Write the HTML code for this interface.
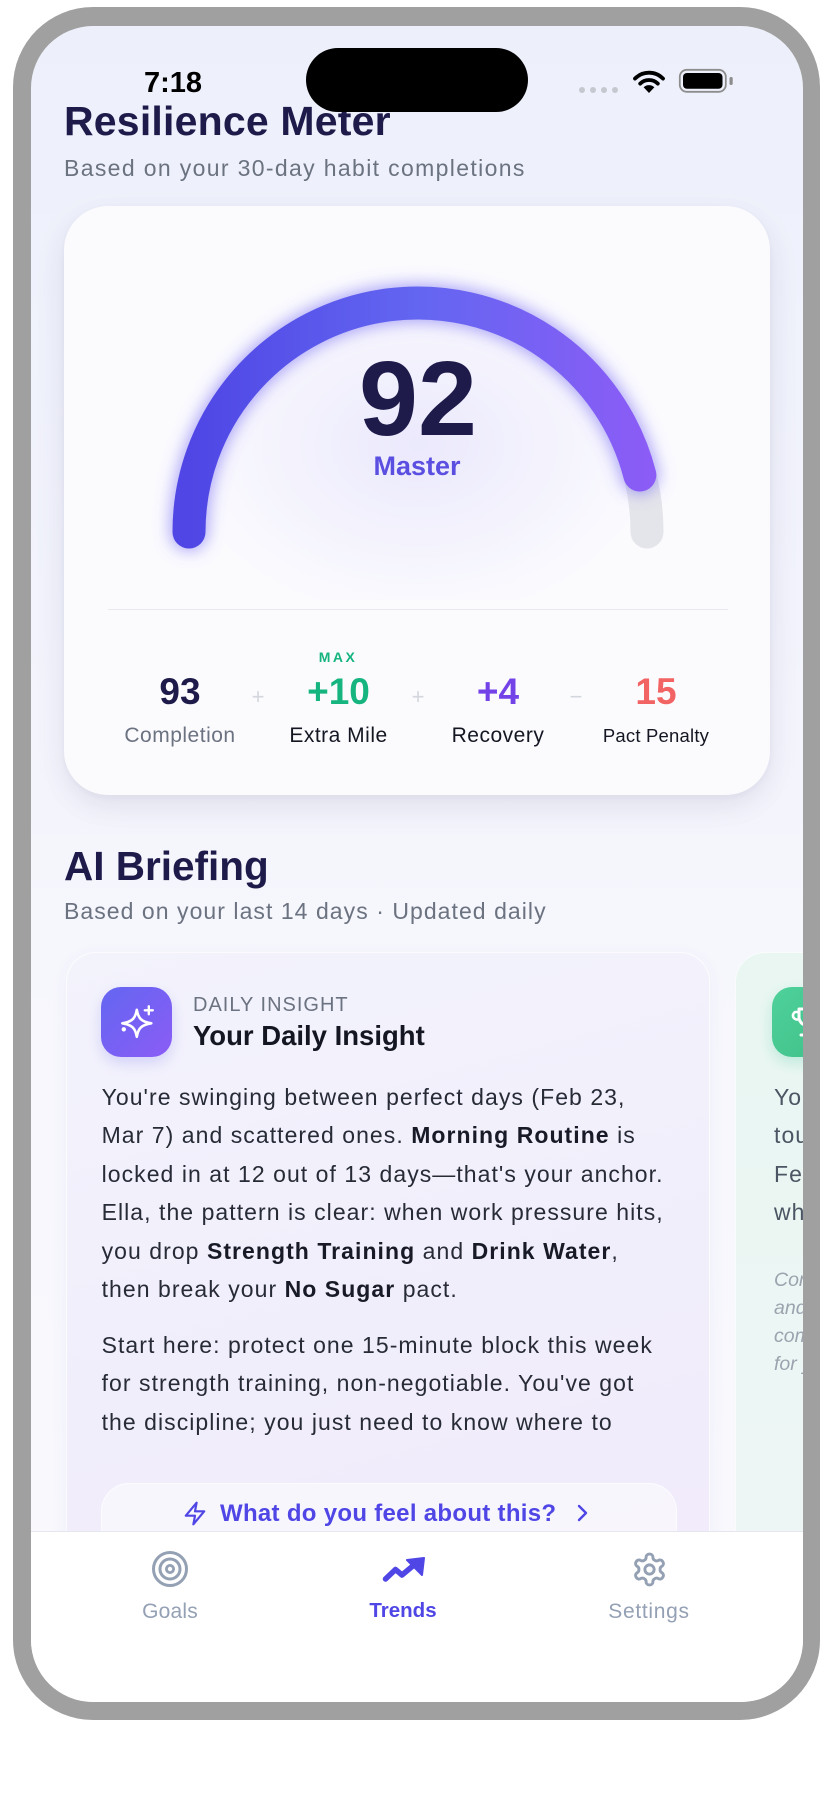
<!DOCTYPE html>
<html><head><meta charset="utf-8"><style>
*{margin:0;padding:0;box-sizing:border-box}
html,body{width:828px;height:1795px;overflow:hidden;background:#fff}
body{font-family:"Liberation Sans",Arial,sans-serif;position:relative}
.a{position:absolute}
.t{position:absolute;white-space:nowrap;line-height:1}
.c{text-align:center}
.b{font-weight:bold}
.body{position:absolute;white-space:nowrap;font-size:23px;line-height:38.5px;letter-spacing:1.05px;color:#272b36}
.body b{color:#181b27}
.lab{font-size:21px;letter-spacing:.5px;color:#141722}
.num{font-size:37px;font-weight:bold}
.sep{font-size:22px;color:#d3d6dd}
</style></head><body>
<div class="a" style="left:13px;top:7px;width:807px;height:1713px;border-radius:80px;background:#a0a0a0"></div>
<div class="a" style="left:31px;top:26px;width:772px;height:1676px;border-radius:62px;overflow:hidden;background:linear-gradient(180deg,#edf0fb 0%,#f2f3fc 35%,#f7f7fd 60%,#f8f8fd 100%)">
<div class="a" style="left:-31px;top:-26px;width:828px;height:1795px">

<!-- status bar -->
<div class="t b" style="left:144px;top:68.5px;font-size:29px;color:#000">7:18</div>
<div class="a" style="left:579px;top:87px;width:6px;height:6px;border-radius:3px;background:#c6c8cf"></div>
<div class="a" style="left:590px;top:87px;width:6px;height:6px;border-radius:3px;background:#c6c8cf"></div>
<div class="a" style="left:601px;top:87px;width:6px;height:6px;border-radius:3px;background:#c6c8cf"></div>
<div class="a" style="left:612px;top:87px;width:6px;height:6px;border-radius:3px;background:#c6c8cf"></div>
<svg class="a" style="left:632px;top:69px" width="34" height="25" viewBox="0 0 34 25">
 <path d="M17 24 L11.6 18.3 A7.8 7.8 0 0 1 22.4 18.3 Z" fill="#000"/>
 <path d="M8.2 14.6 A12.5 12.5 0 0 1 25.8 14.6" stroke="#000" stroke-width="3.8" fill="none" stroke-linecap="round"/>
 <path d="M3 9.6 A19.5 19.5 0 0 1 31 9.6" stroke="#000" stroke-width="3.8" fill="none" stroke-linecap="round"/>
</svg>
<svg class="a" style="left:678px;top:68px" width="58" height="26" viewBox="0 0 58 26">
 <rect x="1.8" y="1.8" width="46" height="22" rx="7" fill="none" stroke="#8d8d8d" stroke-width="1.8"/>
 <rect x="5" y="5" width="39.5" height="15.8" rx="4" fill="#000"/>
 <rect x="51.5" y="9" width="3.2" height="8" rx="1.5" fill="#8d8d8d"/>
</svg>

<!-- heading -->
<div class="t b" style="left:64px;top:101.3px;font-size:41px;letter-spacing:.2px;color:#1e1b4b">Resilience Meter</div>
<div class="t" style="left:64px;top:157px;font-size:23px;letter-spacing:1.35px;color:#6b7280">Based on your 30-day habit completions</div>

<!-- island -->
<div class="a" style="left:306px;top:48px;width:222px;height:64px;border-radius:32px;background:#000"></div>

<!-- resilience card -->
<div class="a" style="left:64px;top:206px;width:706px;height:589px;border-radius:44px;background:#fbfbfe;box-shadow:0 12px 30px rgba(40,40,90,0.10),0 2px 6px rgba(40,40,90,0.04)"></div>
<div class="a" style="left:120px;top:270px;width:600px;height:330px;background:radial-gradient(ellipse 240px 175px at 298px 175px,rgba(125,110,240,0.13),rgba(125,110,240,0) 100%)"></div>

<svg class="a" style="left:0;top:0" width="828" height="800" viewBox="0 0 828 800">
 <defs>
  <linearGradient id="g" gradientUnits="userSpaceOnUse" x1="189" y1="0" x2="647" y2="0">
   <stop offset="0" stop-color="#4f46e5"/>
   <stop offset="0.5" stop-color="#6366f1"/>
   <stop offset="1" stop-color="#8b5cf6"/>
  </linearGradient>
  <filter id="bl" x="-20%" y="-20%" width="140%" height="140%"><feGaussianBlur stdDeviation="8"/></filter>
 </defs>
 <path d="M189 532 A229 229 0 0 1 647 532" stroke="#e4e5ea" stroke-width="33" fill="none" stroke-linecap="round"/>
 <path d="M189 532 A229 229 0 0 1 639.8 475" stroke="#6a5cf2" stroke-opacity="0.55" stroke-width="38" fill="none" stroke-linecap="round" filter="url(#bl)"/>
 <path d="M189 532 A229 229 0 0 1 639.8 475" stroke="url(#g)" stroke-width="33" fill="none" stroke-linecap="round"/>
</svg>

<div class="t b c" style="left:318px;top:346.3px;width:200px;font-size:106px;color:#1e1b4b">92</div>
<div class="t b c" style="left:317px;top:453.1px;width:200px;font-size:27px;color:#5a4fe0">Master</div>

<div class="a" style="left:108px;top:608.5px;width:620px;height:1.5px;background:#e8e9ef"></div>

<div class="t b c" style="left:288px;top:650.1px;width:100px;font-size:14px;letter-spacing:2.5px;color:#16b47e">MAX</div>
<div class="t num c" style="left:130px;top:672.7px;width:100px;color:#1e1b4b">93</div>
<div class="t num c" style="left:288.5px;top:672.7px;width:100px;color:#16b47e">+10</div>
<div class="t num c" style="left:448px;top:672.7px;width:100px;color:#7443e8">+4</div>
<div class="t num c" style="left:606px;top:672.7px;width:100px;color:#f26363">15</div>
<div class="t sep c" style="left:248px;top:686px;width:20px">+</div>
<div class="t sep c" style="left:408px;top:686px;width:20px">+</div>
<div class="t sep c" style="left:566px;top:686px;width:20px">−</div>
<div class="t lab c" style="left:110px;top:725.2px;width:140px;color:#6b7280">Completion</div>
<div class="t lab c" style="left:268.5px;top:725.2px;width:140px">Extra Mile</div>
<div class="t lab c" style="left:428px;top:725.2px;width:140px">Recovery</div>
<div class="t c" style="left:586px;top:727.3px;width:140px;font-size:18.5px;letter-spacing:.2px;color:#141722">Pact Penalty</div>

<!-- AI Briefing -->
<div class="t b" style="left:64px;top:845.7px;font-size:40.5px;color:#1e1b4b">AI Briefing</div>
<div class="t" style="left:64px;top:899.5px;font-size:23px;letter-spacing:1.05px;color:#6b7280">Based on your last 14 days · Updated daily</div>

<!-- insight card -->
<div class="a" style="left:66px;top:952px;width:644px;height:660px;border-radius:30px;background:linear-gradient(165deg,#f3f3fc 0%,#f1effb 45%,#f1eafb 100%);border:1px solid rgba(255,255,255,0.75);box-shadow:0 4px 18px rgba(80,70,180,0.05)"></div>
<div class="a" style="left:100.7px;top:986.7px;width:71px;height:70px;border-radius:20px;background:linear-gradient(135deg,#6366f1,#8b5cf6);box-shadow:0 6px 14px rgba(99,102,241,0.22)"></div>
<svg class="a" style="left:100.7px;top:986.7px" width="71" height="70" viewBox="100.7 986.7 71 70">
 <path d="M136.5 1009.5 C138 1018 141 1021.5 151 1023 C141 1024.5 138 1028 136.5 1036.5 C135 1028 132 1024.5 122 1023 C132 1021.5 135 1018 136.5 1009.5 Z" fill="none" stroke="#fff" stroke-width="2.6" stroke-linejoin="round"/>
 <path d="M148.5 1006 v8 M144.5 1010 h8" stroke="#fff" stroke-width="2.4" stroke-linecap="round"/>
 <circle cx="123.5" cy="1029" r="2.2" fill="#fff"/>
</svg>
<div class="t" style="left:193px;top:995.1px;font-size:20px;letter-spacing:1px;color:#6b7280">DAILY INSIGHT</div>
<div class="t b" style="left:193px;top:1021.7px;font-size:27.5px;color:#141722">Your Daily Insight</div>

<div class="body" style="left:101.6px;top:1077.8px">You're swinging between perfect days (Feb 23,<br>Mar 7) and scattered ones. <b>Morning Routine</b> is<br>locked in at 12 out of 13 days—that's your anchor.<br>Ella, the pattern is clear: when work pressure hits,<br>you drop <b>Strength Training</b> and <b>Drink Water</b>,<br>then break your <b>No Sugar</b> pact.</div>
<div class="body" style="left:101.6px;top:1325.8px">Start here: protect one 15-minute block this week<br>for strength training, non-negotiable. You've got<br>the discipline; you just need to know where to</div>

<div class="a" style="left:101px;top:1483px;width:576px;height:80px;border-radius:28px;background:rgba(255,255,255,0.5);border:1px solid rgba(255,255,255,0.6)"></div>
<svg class="a" style="left:182px;top:1500px" width="26" height="27" viewBox="0 0 24 24">
 <path d="M13.5 2 L3.5 14 H12 L10.5 22 L20.5 10 H12 Z" fill="none" stroke="#4f46e5" stroke-width="2" stroke-linejoin="round"/>
</svg>
<div class="t b" style="left:220px;top:1501.7px;font-size:24px;letter-spacing:.3px;color:#4f46e5">What do you feel about this?</div>
<svg class="a" style="left:575px;top:1503px" width="16" height="20" viewBox="0 0 16 20">
 <path d="M4 3 L11 10 L4 17" fill="none" stroke="#4f46e5" stroke-width="2.4" stroke-linecap="round" stroke-linejoin="round"/>
</svg>

<!-- peek card -->
<div class="a" style="left:735px;top:952px;width:644px;height:660px;border-radius:30px;background:linear-gradient(180deg,#e9f6f2,#eef6f5);border:1px solid rgba(255,255,255,0.7)"></div>
<div class="a" style="left:772px;top:987px;width:71px;height:70px;border-radius:20px;background:linear-gradient(135deg,#4fd19b,#3fbf88);box-shadow:0 6px 14px rgba(16,185,129,0.2)"></div>
<svg class="a" style="left:772px;top:987px" width="71" height="70" viewBox="0 0 71 70">
 <path d="M27 22 h17 v8 a8.5 8.5 0 0 1 -17 0 Z M35.5 38.5 v7 M29 48 h13" fill="none" stroke="#fff" stroke-width="3" stroke-linecap="round" stroke-linejoin="round"/>
 <path d="M27 25 h-4 a4 4 0 0 0 4 7" fill="none" stroke="#fff" stroke-width="2.6" stroke-linecap="round"/>
</svg>
<div class="body" style="left:774px;top:1077.8px;color:#4b5563">Your streak is strong<br>touching new highs<br>February was steady<br>when it counted</div>
<div class="a" style="left:774px;top:1266.4px;white-space:nowrap;font-size:19.5px;line-height:28px;font-style:italic;color:#9ca3af">Consistency builds<br>and keeps<br>compounding<br>for you</div>

<!-- nav -->
<div class="a" style="left:0;top:1531px;width:828px;height:300px;background:#fff;border-top:1px solid #e6e7ee"></div>
<svg class="a" style="left:150px;top:1549px" width="40" height="40" viewBox="0 0 40 40">
 <circle cx="20" cy="20" r="16.5" fill="none" stroke="#94a0b4" stroke-width="3"/>
 <circle cx="20" cy="20" r="10" fill="none" stroke="#94a0b4" stroke-width="3"/>
 <circle cx="20" cy="20" r="3.6" fill="none" stroke="#94a0b4" stroke-width="2.8"/>
</svg>
<div class="t c" style="left:110px;top:1601.2px;width:120px;font-size:21px;letter-spacing:.2px;color:#94a0b4">Goals</div>
<svg class="a" style="left:382px;top:1557px" width="44" height="26" viewBox="0 0 44 26">
 <polyline points="3.5,22 13.5,12.5 20,18 32,8" fill="none" stroke="#4f46e5" stroke-width="5.5" stroke-linecap="round" stroke-linejoin="round"/>
 <polygon points="25,3 42,1 40,18" fill="#4f46e5" stroke="#4f46e5" stroke-width="2" stroke-linejoin="round"/>
</svg>
<div class="t b c" style="left:343px;top:1601.2px;width:120px;font-size:20.5px;color:#4f46e5">Trends</div>
<svg class="a" style="left:631px;top:1551px" width="37" height="37" viewBox="0 0 24 24">
 <path d="M12.22 2h-.44a2 2 0 0 0-2 2v.18a2 2 0 0 1-1 1.73l-.43.25a2 2 0 0 1-2 0l-.15-.08a2 2 0 0 0-2.730.73l-.22.38a2 2 0 0 0 .73 2.73l.15.1a2 2 0 0 1 1 1.72v.51a2 2 0 0 1-1 1.740l-.15.09a2 2 0 0 0-.73 2.73l.22.38a2 2 0 0 0 2.73.73l.15-.08a2 2 0 0 1 2 0l.43.25a2 2 0 0 1 1 1.73V20a2 2 0 0 0 2 2h.44a2 2 0 0 0 2-2v-.18a2 2 0 0 1 1-1.73l.43-.25a2 2 0 0 1 2 0l.15.08a2 2 0 0 0 2.73-.73l.22-.39a2 2 0 0 0-.73-2.73l-.15-.08a2 2 0 0 1-1-1.74v-.5a2 2 0 0 1 1-1.74l.15-.09a2 2 0 0 0 .73-2.73l-.22-.38a2 2 0 0 0-2.73-.73l-.15.08a2 2 0 0 1-2 0l-.43-.25a2 2 0 0 1-1-1.73V4a2 2 0 0 0-2-2z" fill="none" stroke="#94a0b4" stroke-width="1.9" stroke-linejoin="round"/>
 <circle cx="12" cy="12" r="3" fill="none" stroke="#94a0b4" stroke-width="1.9"/>
</svg>
<div class="t c" style="left:589px;top:1601.2px;width:120px;font-size:21px;letter-spacing:.7px;color:#94a0b4">Settings</div>

</div>
</div>
</body></html>
